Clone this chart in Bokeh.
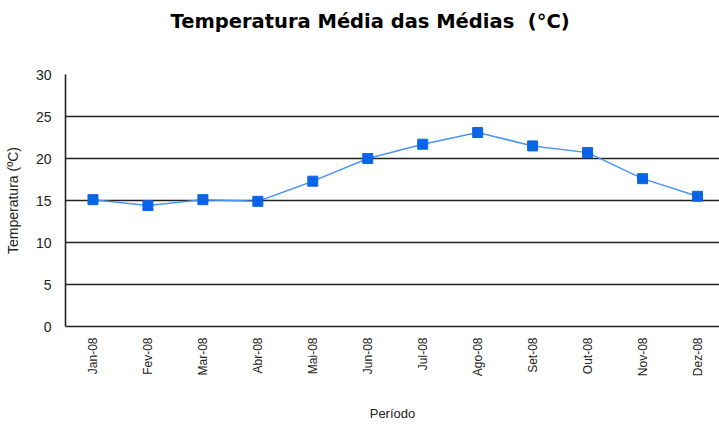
from bokeh.plotting import figure
from bokeh.embed import file_html
from bokeh.resources import INLINE
from bokeh.models import Range1d, FixedTicker, Title, ColumnDataSource

months = ["Jan-08", "Fev-08", "Mar-08", "Abr-08", "Mai-08", "Jun-08",
          "Jul-08", "Ago-08", "Set-08", "Out-08", "Nov-08", "Dez-08"]
temps = [15.1, 14.4, 15.1, 14.9, 17.3, 20.0, 21.7, 23.1, 21.5, 20.7, 17.6, 15.5]
y_ticks = [0, 5, 10, 15, 20, 25, 30]
chart_title = "Temperatura Média das Médias\u00a0 (°C)"

pos = [i + 0.5 for i in range(len(months))]
src = ColumnDataSource(dict(x=pos, t=temps))

p = figure(width=719, height=424, x_range=Range1d(0, 11.9), y_range=Range1d(0, 30),
           output_backend="svg", toolbar_location=None,
           min_border_left=65, min_border_right=0, min_border_top=74, min_border_bottom=97)
p.outline_line_color = None
p.background_fill_color = "white"
p.border_fill_color = "white"

# spacer between title and plot area (nearest to the frame)
p.add_layout(Title(text="\u00a0", text_font_size="1px", standoff=37), "above")
p.add_layout(Title(text=chart_title, align="left", vertical_align="top",
                   offset=105, standoff=0, text_font="DejaVu Sans",
                   text_font_size="19.5px", text_font_style="bold", text_color="black"),
             "above")

p.xgrid.grid_line_color = None
p.ygrid.grid_line_color = "#222222"
p.ygrid.grid_line_width = 1.6
p.yaxis.ticker = FixedTicker(ticks=y_ticks)
p.xaxis.ticker = FixedTicker(ticks=pos)
p.xaxis.major_label_overrides = {x: m for x, m in zip(pos, months)}

for ax in (p.xaxis, p.yaxis):
    ax.major_tick_line_color = None
    ax.minor_tick_line_color = None
    ax.axis_line_color = "#222222"
    ax.axis_line_width = 1.6
    ax.major_label_text_font = "Liberation Sans"
    ax.major_label_text_color = "#222222"
    ax.axis_label_text_font = "Liberation Sans"
    ax.axis_label_text_font_style = "normal"
    ax.axis_label_text_color = "#222222"

p.yaxis.major_label_text_font_size = "14px"
p.yaxis.major_label_standoff = 8
p.yaxis.axis_label = "Temperatura (ºC)"
p.yaxis.axis_label_text_font_size = "14px"
p.yaxis.axis_label_standoff = 12

p.xaxis.major_label_orientation = 1.5708
p.xaxis.major_label_text_font_size = "12px"
p.xaxis.major_label_standoff = 5
p.xaxis.axis_label = "Período"
p.xaxis.axis_label_text_font_size = "13px"
p.xaxis.axis_label_standoff = 27

p.line("x", "t", source=src, line_color="#4a96f0", line_width=1.5)
p.scatter("x", "t", source=src, marker="square", size=10,
          fill_color="#0a64e6", line_color="#0a64e6")

open("out.html", "w").write(file_html(p, INLINE))
